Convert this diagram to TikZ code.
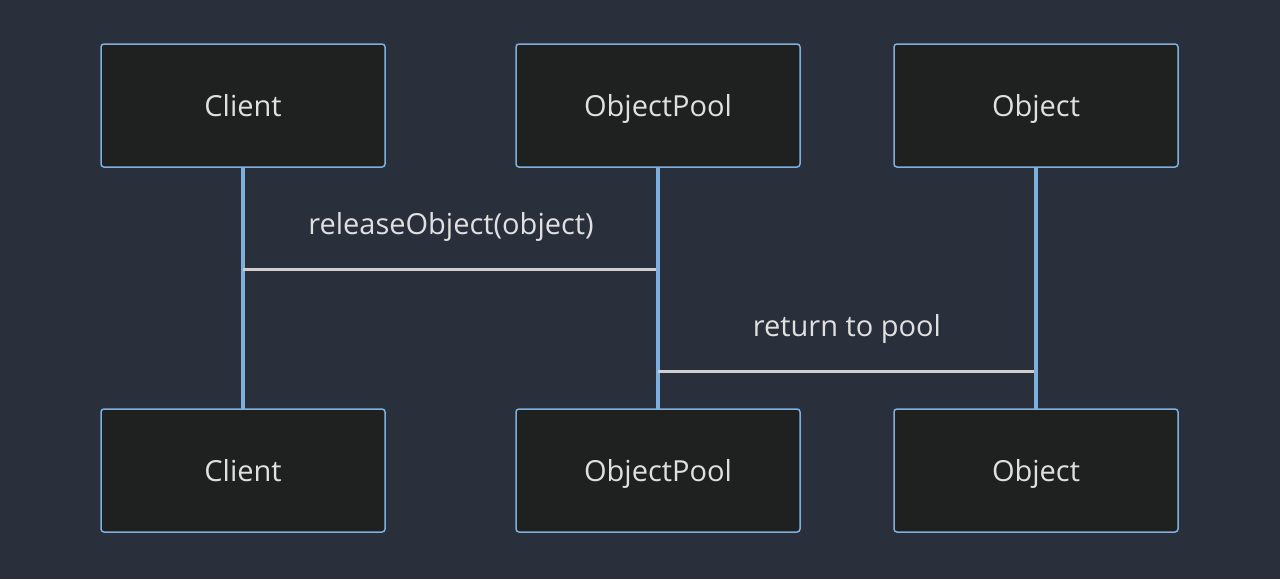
\documentclass[tikz,border=0pt]{standalone}
\usepackage{fontspec}
\setmainfont{Open Sans}
\definecolor{bg}{HTML}{2A2F3C}
\definecolor{boxfill}{HTML}{1F2020}
\definecolor{boxline}{HTML}{7FB0DD}
\definecolor{txt}{HTML}{E0E0E0}
\definecolor{msg}{HTML}{CFCFCF}
\begin{document}
\begin{tikzpicture}[
  x=1pt, y=-1pt,
  actor/.style={draw=boxline, line width=1.5pt, fill=boxfill, rounded corners=3pt,
    minimum width=284pt, minimum height=123pt, text=txt, text height=22pt, text depth=0pt,
    font=\fontsize{29}{34}\selectfont},
  life/.style={boxline, line width=3.2pt},
  message/.style={msg, line width=3pt},
  label/.style={text=txt, text height=22pt, text depth=0pt, font=\fontsize{29}{34}\selectfont}
]
\fill [bg] (0,0) rectangle (1280,579);
\useasboundingbox (0,0) rectangle (1280,579);
% lifelines
\coordinate (ct) at (243,167);
\coordinate (pt) at (658,167);
\coordinate (ot) at (1036,167);
\coordinate (cb) at (243,409);
\coordinate (pb) at (658,409);
\coordinate (ob) at (1036,409);
\draw [life] (ct) -- (cb);
\draw [life] (pt) -- (pb);
\draw [life] (ot) -- (ob);
% actors
\node [actor] (client) at (243,105.5) {Client};
\node [actor] (pool) at (658,105.5) {ObjectPool};
\node [actor] (object) at (1036,105.5) {Object};
\node [actor] (client2) at (243,470.5) {Client};
\node [actor] (pool2) at (658,470.5) {ObjectPool};
\node [actor] (object2) at (1036,470.5) {Object};
% messages
\coordinate (m1a) at (243,269);
\coordinate (m1b) at (656,269);
\coordinate (m2a) at (658,371);
\coordinate (m2b) at (1034,371);
\draw [message] (m1a) -- (m1b);
\draw [message] (m2a) -- (m2b);
\node [label] (rel) at (451,223) {releaseObject(object)};
\node [label] (ret) at (847,325) {return to pool};
\end{tikzpicture}
\end{document}
